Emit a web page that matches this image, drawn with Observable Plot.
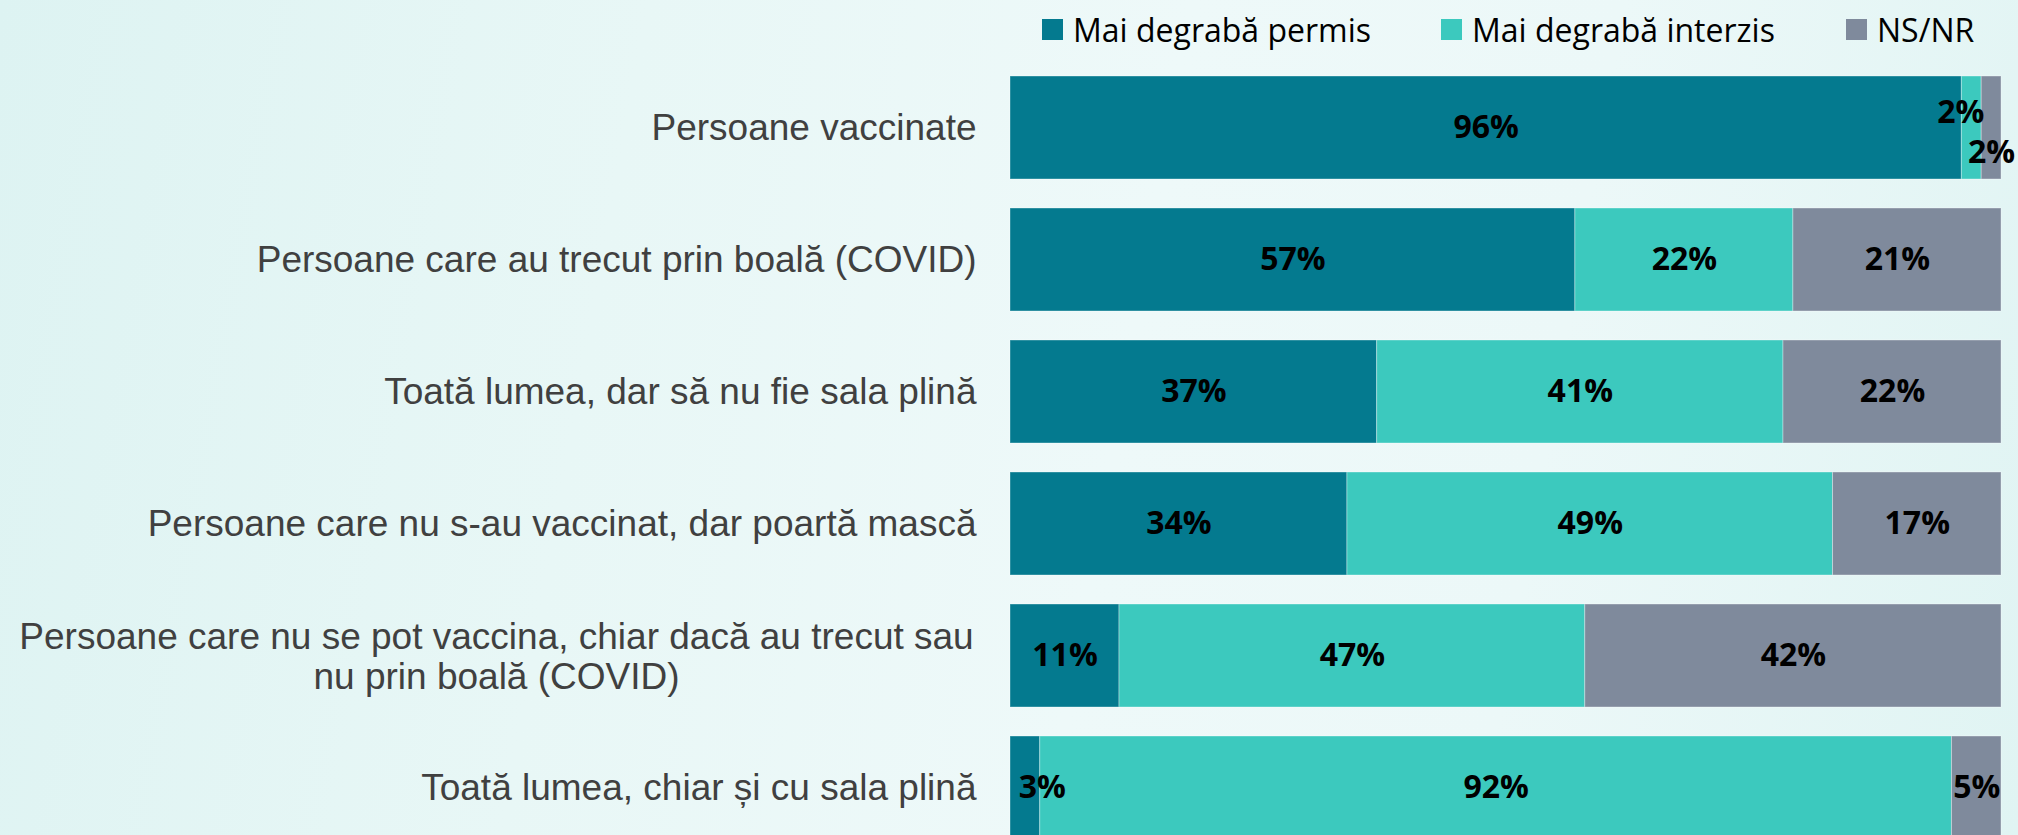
<!DOCTYPE html>
<html>
<head>
<meta charset="utf-8">
<script src="https://cdn.jsdelivr.net/npm/d3@7"></script>
<script src="https://cdn.jsdelivr.net/npm/@observablehq/plot@0.6"></script>
<style>
  html, body { margin: 0; padding: 0; }
  body {
    width: 2018px; height: 835px; overflow: hidden;
    background: linear-gradient(100deg, #ddf3f2 0%, #e8f7f6 30%, #eef9f9 55%, #ecf8f8 75%, #e0f4f3 100%);
    font-family: "Open Sans", sans-serif;
  }
  #legend { position: relative; height: 60px; }
  .item { position: absolute; top: 8px; display: flex; align-items: center; font-size: 32px; color: #000; white-space: nowrap; }
  .sw { width: 21px; height: 21px; margin-right: 10px; }
  #chart svg { display: block; }
</style>
</head>
<body>
<div id="legend"></div>
<div id="chart"></div>
<script>
const categories = [
  "Persoane vaccinate",
  "Persoane care au trecut prin boală (COVID)",
  "Toată lumea, dar să nu fie sala plină",
  "Persoane care nu s-au vaccinat, dar poartă mască",
  "Persoane care nu se pot vaccina, chiar dacă au trecut sau\nnu prin boală (COVID)",
  "Toată lumea, chiar și cu sala plină"
];
const series = ["Mai degrabă permis", "Mai degrabă interzis", "NS/NR"];
const permis   = [96, 57, 37, 34, 11, 3];
const interzis = [2, 22, 41, 49, 47, 92];
const nsnr     = [2, 21, 22, 17, 42, 5];
const colors = ["#047a8f", "#3cc9be", "#7f8a9c"];

const valuesBySeries = [permis, interzis, nsnr];
const table = [];
categories.forEach((cat, i) => {
  series.forEach((s, j) => {
    table.push({cat, series: s, value: valuesBySeries[j][i]});
  });
});

// legend
const legend = document.getElementById("legend");
const legendLeft = [1042, 1441, 1846];
series.forEach((s, j) => {
  const it = document.createElement("div");
  it.className = "item";
  it.style.left = legendLeft[j] + "px";
  it.innerHTML = `<span class="sw" style="background:${colors[j]}"></span><span>${s}</span>`;
  legend.appendChild(it);
});

// labels nudged away from their segment centre
const nudges = [
  {cat: categories[0], series: series[1], dx: -11, dy: -15},
  {cat: categories[0], series: series[2], dx: 0, dy: 25},
  {cat: categories[5], series: series[0], dx: 17, dy: 0}
];
const isNudged = d => nudges.some(n => n.cat === d.cat && n.series === d.series);

const labelFont = {fontFamily: "'Liberation Sans', Arial, sans-serif", fontSize: 37, fill: "#404040"};
const valueFont = {fontFamily: "'Open Sans', sans-serif", fontSize: 32, fontWeight: 700, fill: "#000"};

const stackOpts = {x: "value", y: "cat", z: "series", order: series};

const marks = [
  Plot.barX(table, Plot.stackX({...stackOpts, fill: "series", stroke: "#ffffff", strokeOpacity: 0.35, strokeWidth: 1})),
  Plot.text(table, Plot.stackX({...stackOpts, text: d => isNudged(d) ? null : d.value + "%", ...valueFont})),
  ...nudges.map(n => Plot.text(table, Plot.stackX({...stackOpts,
      text: d => (d.cat === n.cat && d.series === n.series) ? d.value + "%" : null,
      dx: n.dx, dy: n.dy, ...valueFont}))),
  Plot.text(categories.filter(c => !c.includes("\n")), {y: d => d, frameAnchor: "left", textAnchor: "end", dx: -34, ...labelFont}),
  Plot.text(categories.filter(c => c.includes("\n")), {y: d => d, frameAnchor: "left", textAnchor: "middle", dx: -514, lineHeight: 1.1, ...labelFont})
];

const chart = Plot.plot({
  width: 2018,
  height: 780,
  marginLeft: 1010,
  marginRight: 17,
  marginTop: 14,
  marginBottom: 0,
  style: {background: "transparent", overflow: "visible"},
  x: {domain: [0, 100], axis: null},
  y: {domain: categories, axis: null, paddingInner: 0.22, paddingOuter: 0},
  color: {domain: series, range: colors},
  marks
});
document.getElementById("chart").appendChild(chart);
</script>
</body>
</html>
